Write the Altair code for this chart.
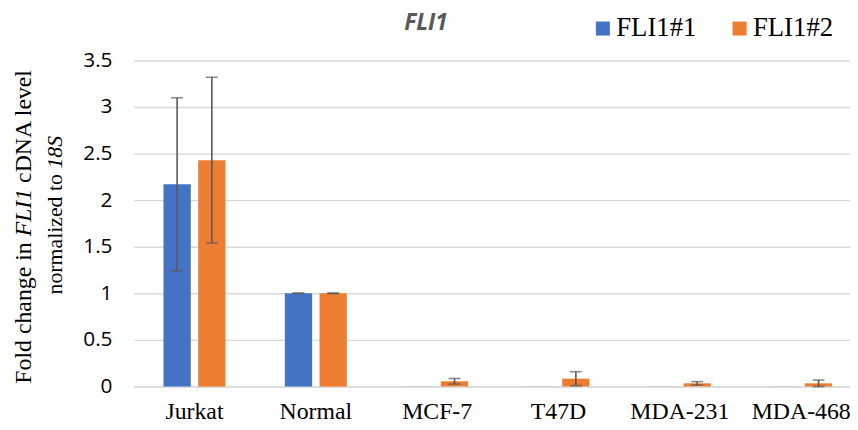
import altair as alt
import pandas as pd

# ---- data ----
cells = ["Jurkat", "Normal", "MCF-7", "T47D", "MDA-231", "MDA-468"]
series = ["FLI1#1", "FLI1#2"]
fli1_1 = [2.17, 1.0, 0.001, 0.001, 0.001, 0.001]
fli1_1_err = [0.93, 0.004, 0.0, 0.0, 0.0, 0.0]
fli1_2 = [2.43, 1.0, 0.055, 0.083, 0.033, 0.033]
fli1_2_err = [0.89, 0.004, 0.03, 0.075, 0.018, 0.035]
y_ticks = [0, 0.5, 1, 1.5, 2, 2.5, 3, 3.5]
colors = ["#4472C4", "#ED7D31"]

rows = []
for vals, errs, s in [(fli1_1, fli1_1_err, series[0]), (fli1_2, fli1_2_err, series[1])]:
    for c, v, e in zip(cells, vals, errs):
        rows.append({"cell": c, "series": s, "value": v, "err": e, "lo": v - e, "hi": v + e})
df = pd.DataFrame(rows)
df_err = df[df["err"] > 0]

LEFT = 127
TOP = 51
PLOT_W = 850 - 8 - LEFT
PLOT_H = 329
STEP_RANGE = 735
X0 = 8 + LEFT
Y0 = 8 + TOP

x_enc = alt.X("cell:N", sort=cells,
              scale=alt.Scale(range=[0, STEP_RANGE], paddingInner=0, paddingOuter=0),
              axis=alt.Axis(title=None, labelAngle=0, ticks=False, domain=True,
                            domainColor="#d9d9d9", domainWidth=1.5,
                            labelFont="Liberation Serif", labelFontSize=24,
                            labelColor="#000000", labelPadding=13))
xoff = alt.XOffset("series:N", sort=series,
                   scale=alt.Scale(paddingInner=0.214, paddingOuter=0.855))
y_scale = alt.Scale(domain=[0, 3.5], nice=False)

bars = alt.Chart(df).mark_bar().encode(
    x=x_enc,
    xOffset=xoff,
    y=alt.Y("value:Q", scale=y_scale,
            axis=alt.Axis(title=None, values=y_ticks, labelExpr="datum.value + ''",
                          grid=True, gridColor="#d9d9d9", gridWidth=1.4,
                          domain=False, ticks=False, labelFont="Open Sans",
                          labelFontSize=21, labelColor="#000000", labelPadding=22)),
    color=alt.Color("series:N", sort=series,
                    scale=alt.Scale(domain=series, range=colors),
                    legend=alt.Legend(title=None, orient="none", direction="horizontal",
                                      legendX=460, legendY=-46,
                                      symbolType="square", symbolSize=200,
                                      symbolStrokeWidth=0, labelFont="Liberation Serif",
                                      labelFontSize=27, labelColor="#000000",
                                      labelOffset=0, columnPadding=30, padding=0)),
)

err_rule = alt.Chart(df_err).mark_rule(color="#595959", strokeWidth=1.6).encode(
    x=alt.X("cell:N", sort=cells),
    xOffset=alt.XOffset("series:N", sort=series),
    y=alt.Y("lo:Q", scale=y_scale),
    y2="hi:Q",
)
cap_hi = alt.Chart(df_err).mark_tick(color="#595959", thickness=1.6, size=12).encode(
    x=alt.X("cell:N", sort=cells),
    xOffset=alt.XOffset("series:N", sort=series),
    y=alt.Y("hi:Q", scale=y_scale),
)
cap_lo = alt.Chart(df_err).mark_tick(color="#595959", thickness=1.6, size=12).encode(
    x=alt.X("cell:N", sort=cells),
    xOffset=alt.XOffset("series:N", sort=series),
    y=alt.Y("lo:Q", scale=y_scale),
)

# ---- title ----
title = alt.Chart(pd.DataFrame({"t": ["FLI1"]})).mark_text(
    font="Open Sans", fontSize=23, fontWeight="bold", fontStyle="italic",
    color="#595959", align="center", baseline="alphabetic"
).encode(text="t:N", x=alt.value(430 - X0), y=alt.value(28 - Y0))

# ---- y-axis title, pieces with italics (rotated) ----
def piece(txt, italic, xpos, ypos, fs):
    return alt.Chart(pd.DataFrame({"t": [txt]})).mark_text(
        font="Liberation Serif", fontSize=fs, fontStyle="italic" if italic else "normal",
        color="#000000", angle=270, align="left", baseline="alphabetic"
    ).encode(text="t:N", x=alt.value(xpos), y=alt.value(ypos))

FS1 = 24
FS2 = 22
L1X = 31 - X0
L2X = 63 - X0
L1S = 386 - 59.8
L2S = 296 - 59.8
ytitle = [
    piece("Fold change in", False, L1X, L1S, FS1),
    piece("FLI1", True, L1X, L1S - 6.194 * FS1, FS1),
    piece("cDNA level", False, L1X, L1S - 6.194 * FS1 - 2.25 * FS1, FS1),
    piece("normalized to", False, L2X, L2S, FS2),
    piece("18S", True, L2X, L2S - 5.777 * FS2, FS2),
]

chart = alt.layer(bars, err_rule, cap_hi, cap_lo, title, *ytitle).properties(
    width=PLOT_W, height=PLOT_H,
    autosize=alt.AutoSizeParams(type="none"),
    padding={"left": LEFT, "top": TOP, "right": 8, "bottom": 40},
).configure_view(stroke=None)

chart.save("out.html", embed_options={"renderer": "svg", "actions": False})
